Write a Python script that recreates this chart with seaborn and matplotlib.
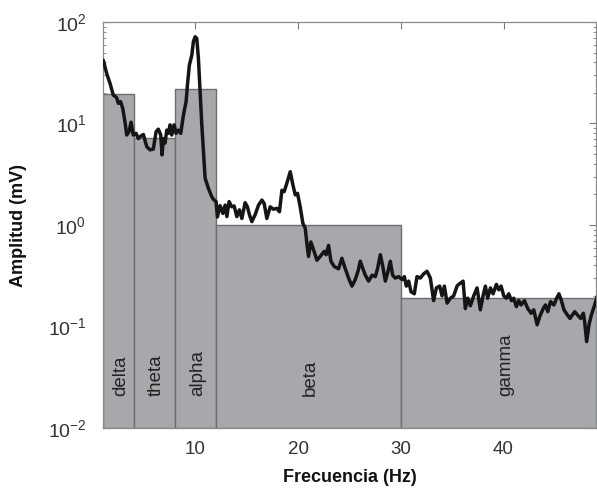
import matplotlib
matplotlib.use("Agg")
import matplotlib.pyplot as plt
import seaborn as sns
import numpy as np
import pandas as pd

# Frequency bands
band_names = ["delta", "theta", "alpha", "beta", "gamma"]
band_lo = [1, 4, 8, 12, 30]
band_hi = [4, 8, 12, 30, 50]
band_amp = [19.4, 7.2, 21.7, 1.0, 0.19]

# Spectrum trace
freq = [1.03, 1.36, 1.68, 2.0, 2.33, 2.49, 2.72, 2.92, 3.14, 3.31, 3.53, 3.73, 3.95,
        4.22, 4.44, 4.67, 4.93, 5.26, 5.58, 5.9, 6.17, 6.39, 6.62, 6.75, 6.88, 7.04,
        7.21, 7.37, 7.53, 7.69, 7.92, 8.11, 8.34, 8.57, 8.83, 9.09, 9.22, 9.41, 9.65,
        9.8, 9.97, 10.13, 10.29, 10.45, 10.62, 10.78, 10.94, 11.26, 11.59, 11.75,
        12.01, 12.14, 12.4, 12.67, 12.89, 13.06, 13.28, 13.54, 13.77, 14.03, 14.28,
        14.52, 14.84, 15.06, 15.26, 15.49, 15.81, 16.14, 16.47, 16.69, 16.95, 17.28,
        17.6, 17.93, 18.18, 18.42, 18.64, 18.9, 19.23, 19.49, 19.72, 19.94, 20.2,
        20.46, 20.69, 20.85, 21.01, 21.24, 21.5, 21.83, 22.15, 22.54, 22.73, 22.96,
        23.19, 23.51, 23.93, 24.26, 24.59, 24.91, 25.24, 25.56, 25.83, 26.05, 26.31,
        26.54, 26.86, 27.19, 27.51, 27.73, 28.0, 28.22, 28.49, 28.75, 28.97, 29.2,
        29.46, 29.79, 30.12, 30.34, 30.53, 30.76, 30.99, 31.31, 31.57, 31.89, 32.22,
        32.55, 32.87, 33.19, 33.46, 33.78, 34.01, 34.24, 34.5, 34.82, 35.14, 35.47,
        35.63, 35.86, 36.06, 36.28, 36.51, 36.77, 37.09, 37.42, 37.74, 38.0, 38.23,
        38.45, 38.72, 38.98, 39.3, 39.53, 39.76, 40.02, 40.27, 40.5, 40.77, 40.99,
        41.25, 41.48, 41.71, 42.03, 42.36, 42.69, 42.94, 43.27, 43.52, 43.86, 44.08,
        44.31, 44.57, 44.9, 45.17, 45.39, 45.63, 45.88, 46.21, 46.47, 46.7, 46.93,
        47.19, 47.51, 47.77, 47.9, 48.09, 48.32, 48.55, 48.87, 49.13]
amp = [42, 31, 24.9, 19.1, 18, 15.8, 16.4, 14.1, 10.4, 7.7, 8.3, 10.3, 7.7,
       8.0, 7.1, 7.5, 7.8, 5.9, 5.5, 5.6, 8.3, 8.8, 7.7, 4.9, 7.1, 6.4,
       8.6, 8.0, 9.7, 7.7, 9.7, 8.0, 8.6, 8.0, 12.1, 16.4, 23.9, 37.7, 47.3,
       64, 71.6, 69, 43.8, 20.6, 9.7, 5.3, 2.9, 2.3, 1.9, 1.79,
       1.7, 1.2, 1.55, 1.3, 1.57, 1.21, 1.7, 1.51, 1.54, 1.21, 1.41,
       1.16, 1.66, 1.51, 1.26, 1.08, 1.26, 1.57, 1.76, 1.63, 1.16, 1.51,
       1.43, 1.46, 1.35, 2.2, 2.13, 2.58, 3.35, 2.48, 1.98, 2.05, 1.51,
       1.04, 0.93, 0.66, 0.49, 0.68, 0.57, 0.45, 0.49, 0.55, 0.51, 0.63,
       0.44, 0.39, 0.37, 0.47, 0.37, 0.30, 0.25, 0.29, 0.35, 0.44, 0.37,
       0.32, 0.28, 0.32, 0.31, 0.37, 0.51, 0.40, 0.28, 0.35, 0.44, 0.32,
       0.30, 0.31, 0.29, 0.31, 0.25, 0.28, 0.22, 0.21, 0.31, 0.30, 0.33,
       0.35, 0.30, 0.18, 0.24, 0.25, 0.20, 0.25, 0.17, 0.19, 0.20, 0.25,
       0.26, 0.27, 0.28, 0.15, 0.19, 0.16, 0.20, 0.24, 0.146, 0.20, 0.25,
       0.19, 0.24, 0.21, 0.26, 0.23, 0.25, 0.20, 0.19, 0.21, 0.18, 0.19,
       0.157, 0.18, 0.163, 0.18, 0.15, 0.135, 0.146, 0.104, 0.125, 0.15, 0.163,
       0.14, 0.176, 0.163, 0.19, 0.21, 0.18, 0.146, 0.13, 0.12, 0.13, 0.14,
       0.13, 0.12, 0.135, 0.11, 0.071, 0.104, 0.13, 0.163, 0.20]

x_ticks = [10, 20, 30, 40]

sns.set_theme(style="ticks")
plt.rcParams["font.family"] = ["Liberation Sans", "DejaVu Sans"]
plt.rcParams["mathtext.fontset"] = "custom"
plt.rcParams["mathtext.rm"] = "Liberation Sans"

fig = plt.figure(figsize=(5.97, 4.90), dpi=100)
ax = fig.add_axes([103 / 597, 1 - 428 / 490, 493 / 597, 406 / 490])

ax.set_yscale("log")
ymin, ymax = 1e-2, 1e2

widths = [h - l for l, h in zip(band_lo, band_hi)]
ax.bar(band_lo, [a - ymin for a in band_amp], width=widths, bottom=ymin, align="edge",
       color="#a7a8ab", edgecolor="#6e6e70", linewidth=1.0, zorder=1)

df = pd.DataFrame({"f": freq, "a": amp})
sns.lineplot(data=df, x="f", y="a", ax=ax, color="#151515", linewidth=2.5, zorder=3)

for name, lo, hi in zip(band_names, band_lo, band_hi):
    ax.text((lo + hi) / 2 + 0.2, 0.0205, name, rotation=90, ha="center", va="bottom",
            fontsize=13.5, color="#222222", zorder=4)

ax.set_xlim(1, 49)
ax.set_ylim(ymin, ymax)
ax.set_xticks(x_ticks)
ax.set_xticklabels([str(t) for t in x_ticks])

ax.tick_params(axis="both", which="both", direction="in", top=True, right=True,
               colors="#7a7a7a", labelcolor="#333333")
ax.tick_params(axis="x", labelsize=13.5)
ax.tick_params(axis="y", labelsize=14)
ax.tick_params(axis="both", which="major", length=5, width=0.8)
ax.tick_params(axis="y", which="minor", length=2.5, width=0.6)
ax.tick_params(axis="x", which="minor", length=0)
ax.tick_params(axis="x", pad=9)
ax.tick_params(axis="y", pad=12)
for s in ax.spines.values():
    s.set_color("#8a8a8a")
    s.set_linewidth(0.9)

ax.set_xlabel("Frecuencia (Hz)", fontsize=13, fontweight="bold", color="#111111", labelpad=8)
ax.set_ylabel("Amplitud (mV)", fontsize=13, fontweight="bold", color="#111111")
ax.yaxis.set_label_coords(-0.155, 0.5)

fig.savefig("out.png", dpi=100)
